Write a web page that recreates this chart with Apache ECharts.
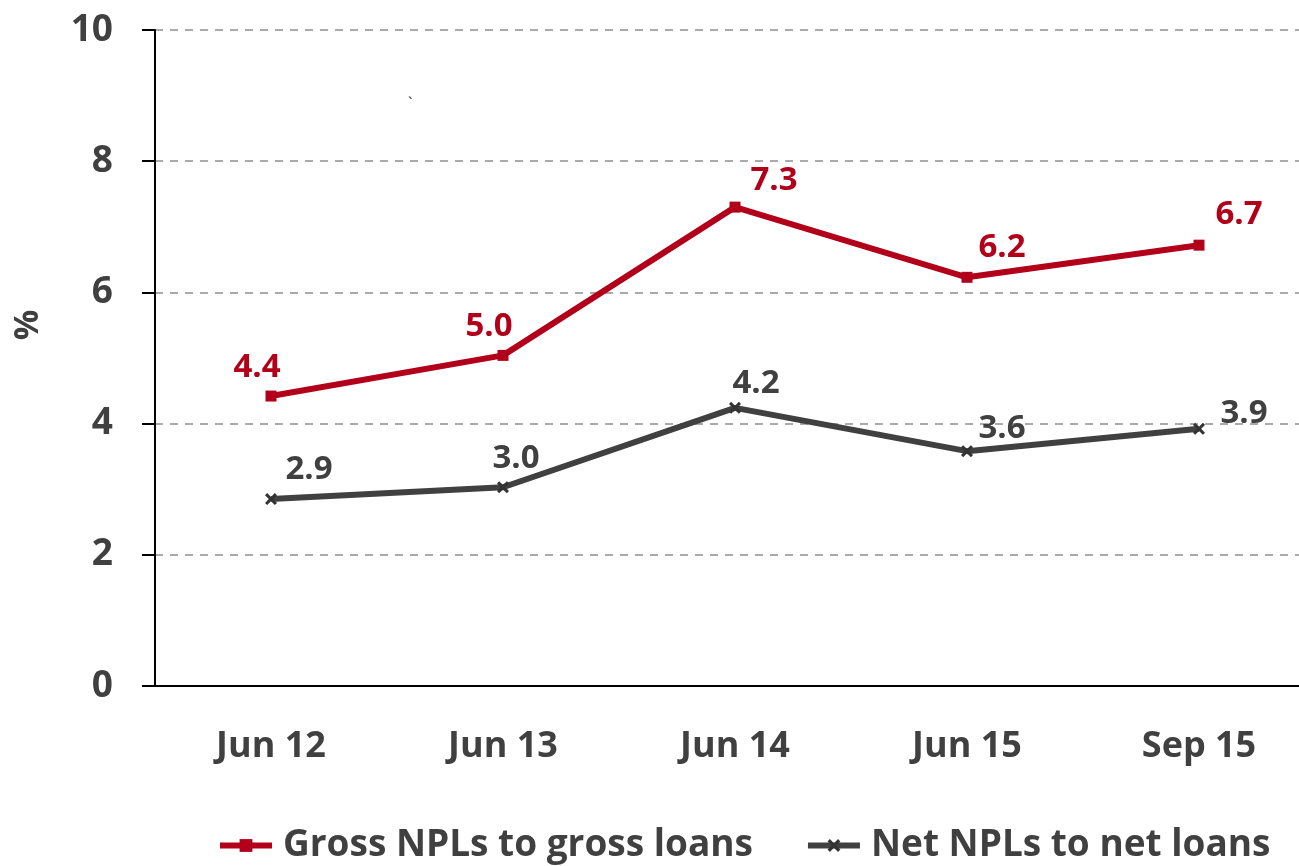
<!DOCTYPE html>
<html>
<head>
<meta charset="utf-8">
<script src="https://cdn.jsdelivr.net/npm/echarts@6/dist/echarts.min.js"></script>
<style>html,body{margin:0;padding:0;background:#fff;}#c{width:1299px;height:866px;}</style>
</head>
<body>
<div id="c"></div>
<script>
var categories = ['Jun 12', 'Jun 13', 'Jun 14', 'Jun 15', 'Sep 15'];
var grossNPL = [4.42, 5.04, 7.30, 6.23, 6.72];
var netNPL = [2.85, 3.03, 4.24, 3.58, 3.92];
var yTicks = [0, 2, 4, 6, 8, 10];
var grossOffsets = [[-14, -28], [-14, -29], [39, -27], [35, -30], [40, -31]];
var netOffsets = [[38, -29], [13, -29], [21, -24], [35, -23], [45, -15]];

var RED = '#B2001B', GREY = '#404040';
var FONT = '"Open Sans"';
var crossPath = 'path://M0,1.8L1.8,0L5,3.2L8.2,0L10,1.8L6.8,5L10,8.2L8.2,10L5,6.8L1.8,10L0,8.2L3.2,5Z';

function mk(vals, offs) {
  return vals.map(function (v, i) {
    return { value: v, label: { offset: offs[i] } };
  });
}

var chart = echarts.init(document.getElementById('c'));
chart.setOption({
  animation: false,
  backgroundColor: '#ffffff',
  textStyle: { fontFamily: FONT },
  grid: { left: 155, top: 30, width: 1160, height: 656, containLabel: false, outerBoundsMode: 'none' },
  legend: {
    top: 822,
    left: 212,
    itemWidth: 52,
    itemHeight: 16,
    itemGap: 52,
    lineStyle: { width: 6 },
    textStyle: { fontFamily: FONT, fontSize: 37, fontWeight: 'bold', color: GREY, padding: [0, 0, 0, 6] },
    data: ['Gross NPLs to gross loans', 'Net NPLs to net loans']
  },
  xAxis: {
    type: 'category',
    data: categories,
    boundaryGap: true,
    axisLine: { lineStyle: { color: '#000', width: 2 } },
    axisTick: { show: false },
    axisLabel: { margin: 43, fontFamily: FONT, fontSize: 36, fontWeight: 'bold', color: GREY }
  },
  yAxis: {
    type: 'value',
    min: 0, max: 10, interval: 2,
    axisLine: { show: true, lineStyle: { color: '#000', width: 2 } },
    axisTick: { show: true, inside: false, length: 13, lineStyle: { color: '#000', width: 2 } },
    axisLabel: {
      margin: 42, fontFamily: FONT, fontSize: 37, fontWeight: 'bold', color: GREY,
      formatter: function (v) { return yTicks.indexOf(v) >= 0 ? String(v) : ''; }
    },
    splitLine: { show: true, lineStyle: { color: '#aaaaaa', width: 2, type: [8, 7] } }
  },
  series: [
    {
      name: 'Gross NPLs to gross loans',
      type: 'line',
      data: mk(grossNPL, grossOffsets),
      symbol: 'rect',
      symbolSize: 11,
      lineStyle: { color: RED, width: 6 },
      itemStyle: { color: RED },
      label: {
        show: true, position: 'inside',
        fontFamily: FONT, fontSize: 33, fontWeight: 'bold', color: RED,
        formatter: function (p) { return p.value.toFixed(1); }
      },
      z: 3
    },
    {
      name: 'Net NPLs to net loans',
      type: 'line',
      data: mk(netNPL, netOffsets),
      symbol: crossPath,
      symbolSize: 12,
      lineStyle: { color: GREY, width: 6 },
      itemStyle: { color: '#333333' },
      label: {
        show: true, position: 'inside',
        fontFamily: FONT, fontSize: 33, fontWeight: 'bold', color: GREY,
        formatter: function (p) { return p.value.toFixed(1); }
      },
      z: 3
    }
  ],
  graphic: [
    { type: 'text', left: 408, top: 96, style: { text: '`', font: '16px ' + FONT, fill: '#333' } },
    {
      type: 'text', x: 28, y: 325, rotation: Math.PI / 2,
      style: { text: '%', font: 'bold 34px ' + FONT, fill: GREY, align: 'center', verticalAlign: 'middle' }
    }
  ]
});
</script>
</body>
</html>
